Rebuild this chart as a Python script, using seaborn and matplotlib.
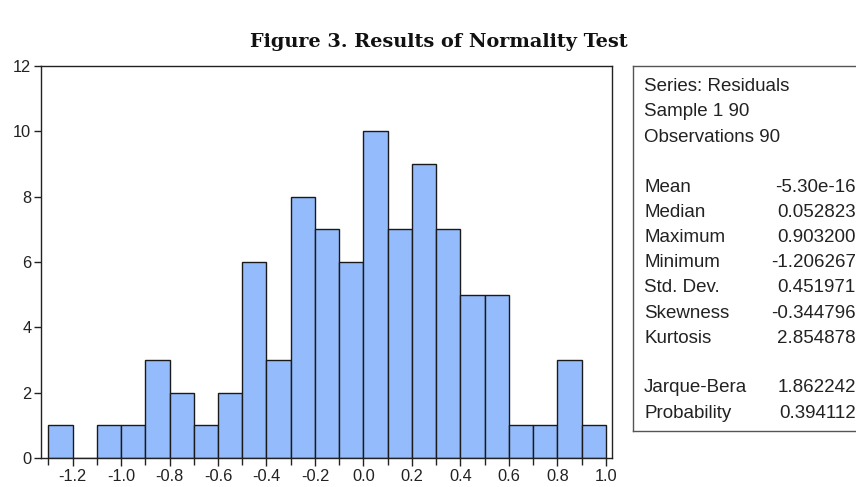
import numpy as np
import pandas as pd
import matplotlib
matplotlib.use("Agg")
import matplotlib.pyplot as plt
import seaborn as sns
from matplotlib.ticker import MultipleLocator

# ---- data ----
bin_edges = [-1.3, -1.2, -1.1, -1.0, -0.9, -0.8, -0.7, -0.6, -0.5, -0.4, -0.3, -0.2,
             -0.1, 0.0, 0.1, 0.2, 0.3, 0.4, 0.5, 0.6, 0.7, 0.8, 0.9, 1.0]
counts = [1, 0, 1, 1, 3, 2, 1, 2, 6, 3, 8, 7, 6, 10, 7, 9, 7, 5, 5, 1, 1, 3, 1]
x_ticks = [-1.2, -1.0, -0.8, -0.6, -0.4, -0.2, 0.0, 0.2, 0.4, 0.6, 0.8, 1.0]
y_ticks = [0, 2, 4, 6, 8, 10, 12]
title = "Figure 3. Results of Normality Test"
header_lines = ["Series: Residuals", "Sample 1 90", "Observations 90"]
stat_names = ["Mean", "Median", "Maximum", "Minimum", "Std. Dev.", "Skewness", "Kurtosis"]
stat_values = ["-5.30e-16", "0.052823", "0.903200", "-1.206267", "0.451971", "-0.344796", "2.854878"]
test_names = ["Jarque-Bera", "Probability"]
test_values = ["1.862242", "0.394112"]

sns.set_theme(style="white")
plt.rcParams['font.family'] = ['Liberation Sans', 'DejaVu Sans']

W, H = 856, 487
fig = plt.figure(figsize=(W / 100, H / 100), dpi=100)

# main histogram axes
left, right, top, bottom = 41, 612, 66, 458
ax = fig.add_axes([left / W, (H - bottom) / H, (right - left) / W, (bottom - top) / H])

centers = [(bin_edges[i] + bin_edges[i + 1]) / 2 for i in range(len(counts))]
df = pd.DataFrame({"x": centers, "w": counts})
sns.histplot(data=df, x="x", weights="w", bins=bin_edges, ax=ax,
             color="#94bcfd", alpha=1.0, edgecolor="#1a1a1a", linewidth=1.0)

ax.set_xlim(-1.33, 1.025)
ax.set_ylim(0, 12)
ax.set_xticks(x_ticks)
ax.set_xticklabels([f"{v:.1f}" for v in x_ticks])
ax.xaxis.set_minor_locator(MultipleLocator(0.1))
ax.set_yticks(y_ticks)
ax.set_xlabel("")
ax.set_ylabel("")
for s in ax.spines.values():
    s.set_color("#222222")
    s.set_linewidth(1.0)
    s.set_visible(True)
ax.tick_params(axis="both", which="major", direction="out", length=5, width=1,
               color="#222222", labelsize=11.8, labelcolor="#222222", pad=2)
ax.tick_params(axis="x", which="major", bottom=True, top=False, length=6)
ax.tick_params(axis="x", which="minor", bottom=True, top=False, length=5, width=1, color="#222222")
ax.tick_params(axis="y", which="major", left=True, right=False)
ax.grid(False)

# title
fig.text(439 / W, 1 - 42 / H, title, ha="center", va="center",
         fontsize=13.9, fontweight="bold", family=["DejaVu Serif"],
         color="#111111")

# stats box
bx0, bx1, by0, by1 = 633, 900, 66, 431
bax = fig.add_axes([bx0 / W, (H - by1) / H, (bx1 - bx0) / W, (by1 - by0) / H])
bax.set_xticks([])
bax.set_yticks([])
bax.set_facecolor("white")
for k, s in bax.spines.items():
    s.set_color("#555555")
    s.set_linewidth(1.0)
bax.spines["right"].set_visible(False)

fs = 13.5
lx = 644 / W
vx = 856 / W
tc = "#222222"
y = 86
for line in header_lines:
    fig.text(lx, 1 - y / H, line, ha="left", va="center", fontsize=fs, color=tc)
    y += 25.5
y = 187
for n, v in zip(stat_names, stat_values):
    fig.text(lx, 1 - y / H, n, ha="left", va="center", fontsize=fs, color=tc)
    fig.text(vx, 1 - y / H, v, ha="right", va="center", fontsize=fs, color=tc)
    y += 25.2
y = 388
for n, v in zip(test_names, test_values):
    fig.text(lx, 1 - y / H, n, ha="left", va="center", fontsize=fs, color=tc)
    fig.text(vx, 1 - y / H, v, ha="right", va="center", fontsize=fs, color=tc)
    y += 25

fig.savefig("out.png", dpi=100)
